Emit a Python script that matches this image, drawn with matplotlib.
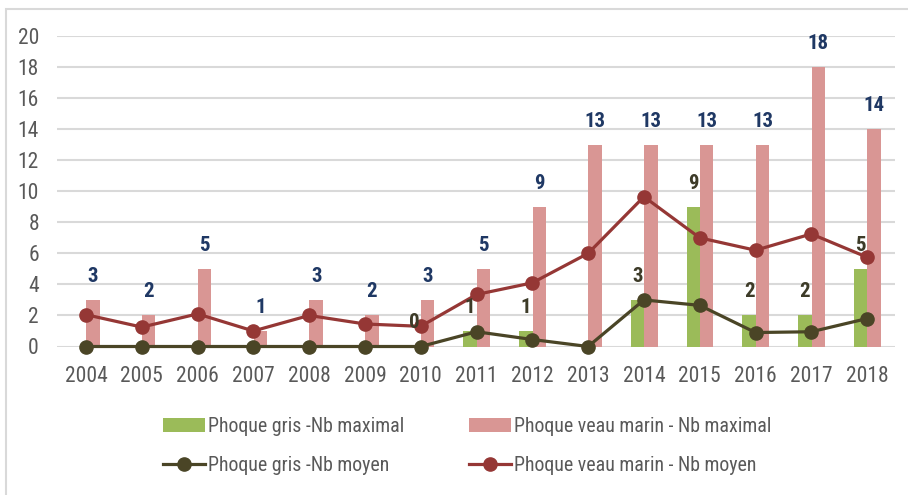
import matplotlib.pyplot as plt
import numpy as np
from matplotlib.patches import Rectangle

plt.rcParams['font.family'] = ['Roboto Condensed', 'Liberation Sans', 'DejaVu Sans']

annees = ["2004", "2005", "2006", "2007", "2008", "2009", "2010", "2011",
          "2012", "2013", "2014", "2015", "2016", "2017", "2018"]
gris_max = [np.nan, np.nan, np.nan, np.nan, np.nan, np.nan, 0, 1, 1, np.nan, 3, 9, 2, 2, 5]
veau_max = [3, 2, 5, 1, 3, 2, 3, 5, 9, 13, 13, 13, 13, 18, 14]
gris_moyen = [0, 0, 0, 0, 0, 0, 0, 0.95, 0.45, 0, 3.0, 2.65, 0.9, 0.95, 1.8]
veau_moyen = [2.05, 1.25, 2.1, 1.0, 2.0, 1.45, 1.3, 3.35, 4.1, 6.0, 9.65, 7.0, 6.2, 7.25, 5.75]

vert = "#9bbb59"
rose = "#d99694"
rouge = "#953735"
olive = "#4a4526"

fig = plt.figure(figsize=(9.08, 4.95), dpi=100)
fig.patches.append(Rectangle((6 / 908, -0.1), 1.2, 1 - 9 / 495 + 0.1, transform=fig.transFigure,
                             fill=False, edgecolor="#d9d9d9", linewidth=1.5))
ax = fig.add_axes([57 / 908, 1 - 346.5 / 495, (895 - 57) / 908, (346.5 - 36) / 495])

x = np.arange(len(annees))
w = 0.24
b1 = ax.bar(x - 0.115, gris_max, w, color=vert, zorder=2, label="Phoque gris -Nb maximal")
b2 = ax.bar(x + 0.125, veau_max, w, color=rose, zorder=2, label="Phoque veau marin - Nb maximal")
l1, = ax.plot(x, gris_moyen, "-o", color=olive, lw=2.3, ms=9.5, zorder=4, clip_on=False,
              label="Phoque gris -Nb moyen")
l2, = ax.plot(x, veau_moyen, "-o", color=rouge, lw=2.3, ms=9.5, zorder=3, clip_on=False,
              label="Phoque veau marin - Nb moyen")

for xi, v in zip(x, gris_max):
    if not np.isnan(v):
        ax.annotate(f"{int(v)}", (xi - 0.115, v), xytext=(0, 17), textcoords="offset points",
                    ha="center", va="center", fontsize=15, fontweight="bold", color="#3d3b28", zorder=5)
for xi, v in zip(x, veau_max):
    ax.annotate(f"{int(v)}", (xi + 0.125, v), xytext=(0, 17), textcoords="offset points",
                ha="center", va="center", fontsize=15, fontweight="bold", color="#1f3864", zorder=5)

ax.set_xlim(-0.52, 14.5)
ax.set_ylim(0, 20)
ax.set_yticks(range(0, 21, 2))
ax.set_xticks(x)
ax.set_xticklabels(annees)
ax.grid(axis="y", color="#d9d9d9", lw=1.5, zorder=0)
for s in ax.spines.values():
    s.set_visible(False)
ax.tick_params(length=0, labelsize=15.5, labelcolor="#595959", pad=14)
ax.tick_params(axis="y", pad=13)

fig.legend([b1, l1, b2, l2], [b1.get_label(), l1.get_label(), b2.get_label(), l2.get_label()],
           ncol=2, loc="center left", bbox_to_anchor=(145 / 908, 1 - 446 / 495),
           frameon=False, fontsize=14.3, handlelength=2.1, handletextpad=0.15,
           columnspacing=3.3, labelspacing=1.0, labelcolor="#595959")

fig.savefig("out.png", dpi=100)
